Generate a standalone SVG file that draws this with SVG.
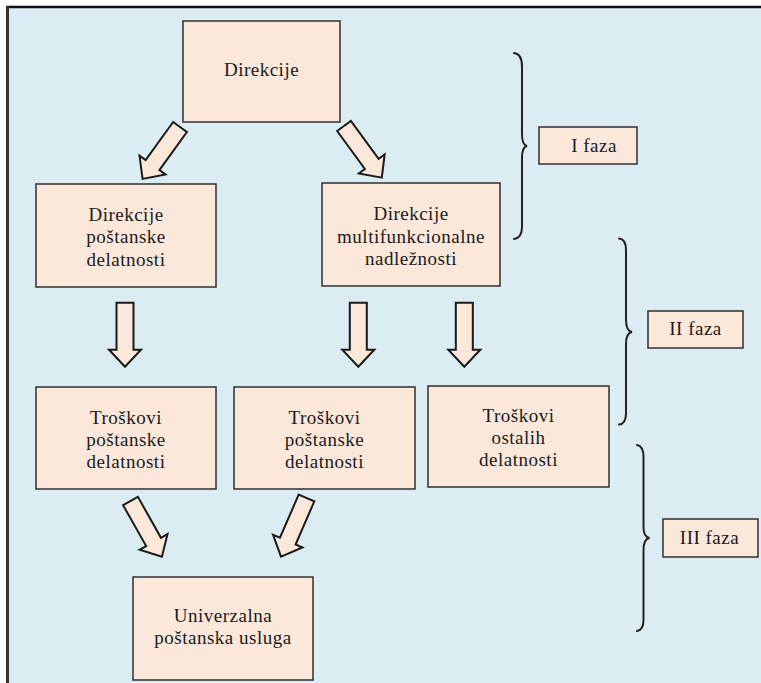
<svg xmlns="http://www.w3.org/2000/svg" width="761" height="683" viewBox="0 0 761 683">
<defs>
<style>
.box{fill:#FCE8DA;stroke:#3a3a3a;stroke-width:1.6}
.txt{font-family:"Liberation Serif","Times New Roman",serif;font-size:19px;letter-spacing:0.5px;fill:#1a1a1a;text-anchor:middle}
.arrow{fill:#FCE8DA;stroke:#1a1a1a;stroke-width:2;stroke-linejoin:miter}
.brace{fill:none;stroke:#222;stroke-width:2;stroke-linecap:round}
</style>
<path id="blk" d="M-8.5,0 L8.5,0 L8.5,47 L16,47 L0,64 L-16,47 L-8.5,47 Z"/>
</defs>
<rect x="0" y="0" width="761" height="683" fill="#ffffff"/>
<rect x="8" y="7" width="753" height="676" fill="#DBEDF3"/>
<line x1="6" y1="7" x2="761" y2="7" stroke="#111" stroke-width="2.5"/>
<line x1="7.5" y1="6" x2="7.5" y2="683" stroke="#333" stroke-width="3"/>

<g id="connectors">
<use href="#blk" class="arrow" transform="translate(180,127) rotate(35.8)"/>
<use href="#blk" class="arrow" transform="translate(344,126) rotate(-36.2)"/>
<use href="#blk" class="arrow" transform="translate(125,302.7)"/>
<use href="#blk" class="arrow" transform="translate(358.3,302.7)"/>
<use href="#blk" class="arrow" transform="translate(464.3,302.7)"/>
<use href="#blk" class="arrow" transform="translate(130.5,501) rotate(-29.4)"/>
<use href="#blk" class="arrow" transform="translate(306.5,498) rotate(23.5)"/>
</g>

<g id="braces">
<path class="brace" d="M514,53 Q522,54 522,66 L522,134 Q522,145 527,146 Q522,147 522,158 L522,227 Q522,238 514,239"/>
<path class="brace" d="M619,238.5 Q626,239 626,250 L626,320 Q626,331 632,332 Q626,333 626,344 L626,413 Q626,424 619,424.5"/>
<path class="brace" d="M637,445 Q643.5,446 643.5,457 L643.5,527 Q643.5,537 649.5,538 Q643.5,539 643.5,550 L643.5,620 Q643.5,630 637,631"/>
</g>

<g id="n-direkcije">
<rect class="box" x="183" y="21" width="157" height="101"/>
<text class="txt" x="261.5" y="76">Direkcije</text>
</g>
<g id="n-dir-postanske">
<rect class="box" x="36" y="184" width="180" height="103"/>
<text class="txt" x="126" y="220.5">Direkcije</text>
<text class="txt" x="126" y="243">poštanske</text>
<text class="txt" x="126" y="265.5">delatnosti</text>
</g>
<g id="n-dir-multi">
<rect class="box" x="322" y="183" width="178" height="103"/>
<text class="txt" x="411" y="219.5">Direkcije</text>
<text class="txt" x="411" y="242.5">multifunkcionalne</text>
<text class="txt" x="411" y="265">nadležnosti</text>
</g>
<g id="n-faza1">
<rect class="box" x="539" y="127" width="98" height="37" stroke-width="2"/>
<text class="txt" x="594" y="152">I faza</text>
</g>
<g id="n-faza2">
<rect class="box" x="648" y="311" width="95" height="37" stroke-width="2"/>
<text class="txt" x="695.5" y="335">II faza</text>
</g>
<g id="n-faza3">
<rect class="box" x="663" y="519" width="95" height="38" stroke-width="2"/>
<text class="txt" x="709.5" y="544">III faza</text>
</g>
<g id="n-tr-post1">
<rect class="box" x="36" y="387" width="180" height="102"/>
<text class="txt" x="126" y="423.5">Troškovi</text>
<text class="txt" x="126" y="445.5">poštanske</text>
<text class="txt" x="126" y="468">delatnosti</text>
</g>
<g id="n-tr-post2">
<rect class="box" x="234" y="387" width="181" height="102"/>
<text class="txt" x="324.5" y="423.5">Troškovi</text>
<text class="txt" x="324.5" y="445.5">poštanske</text>
<text class="txt" x="324.5" y="468">delatnosti</text>
</g>
<g id="n-tr-ostalih">
<rect class="box" x="428" y="386" width="181" height="101"/>
<text class="txt" x="518.5" y="422">Troškovi</text>
<text class="txt" x="518.5" y="444">ostalih</text>
<text class="txt" x="518.5" y="466">delatnosti</text>
</g>
<g id="n-univerzalna">
<rect class="box" x="133" y="577" width="180" height="103"/>
<text class="txt" x="223" y="622">Univerzalna</text>
<text class="txt" x="223" y="644">poštanska usluga</text>
</g>
</svg>
